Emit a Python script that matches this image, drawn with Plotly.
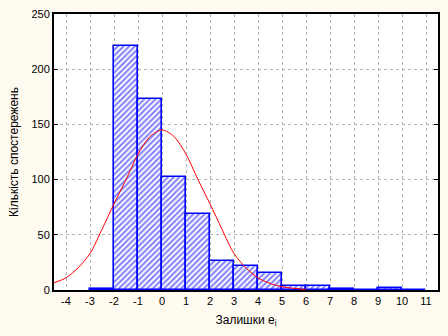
import plotly.graph_objects as go

# Histogram bins (left edges, width 1) and counts
bin_left = [-3, -2, -1, 0, 1, 2, 3, 4, 5, 6, 7, 8, 9, 10]
counts = [1, 221, 173, 102, 69, 26, 22, 15, 4, 4, 1, 0, 2, 0]

# Fitted normal curve
curve_x = [-4.5, -4, -3.5, -3, -2.5, -2, -1.5, -1, -0.5, 0, 0.5, 1, 1.5, 2, 2.5, 3, 3.5, 4, 4.5, 5, 5.5, 6]
curve_y = [6.5, 11, 20, 33, 55, 78, 100, 123, 139, 145, 139, 123, 100, 78, 55, 33, 20, 11, 6, 3, 1.5, 0.5]

x_ticks = list(range(-4, 12))

bin_center = [b + 0.5 for b in bin_left]

fig = go.Figure()
fig.add_trace(go.Bar(
    x=bin_center, y=counts, width=1,
    marker=dict(color="white",
                line=dict(color="#0000ff", width=1.6),
                pattern=dict(shape="/", fgcolor="#0000ff", bgcolor="white", size=4, solidity=0.5)),
    showlegend=False,
))
fig.add_trace(go.Scatter(
    x=curve_x, y=curve_y, mode="lines",
    line=dict(color="#ff0000", width=1, shape="spline", smoothing=0.8),
    showlegend=False,
))

font = "Liberation Sans, Arial, sans-serif"
fig.update_layout(
    width=448, height=336,
    margin=dict(l=54, r=8, t=10, b=46),
    paper_bgcolor="#fffbf0",
    plot_bgcolor="white",
    font=dict(family=font, size=11, color="black"),
    bargap=0,
)
fig.update_xaxes(
    range=[-4.5, 11.5], tickvals=x_ticks, ticktext=[str(v) for v in x_ticks],
    showgrid=True, gridcolor="#b4b4b4", griddash="dot", gridwidth=1,
    showline=True, linecolor="black", linewidth=2, mirror=True,
    ticks="", zeroline=False,
    title=dict(text="Залишки e<sub>i</sub>", font=dict(size=12), standoff=9),
)
fig.update_yaxes(
    range=[0, 250], tickvals=[0, 50, 100, 150, 200, 250],
    showgrid=True, gridcolor="#b4b4b4", griddash="dot", gridwidth=1,
    showline=True, linecolor="black", linewidth=2, mirror="ticks",
    ticks="inside", ticklen=4, tickcolor="black", zeroline=False,
    title=dict(text="Кількість спостережень", font=dict(size=12), standoff=10),
)

fig.write_html("out.html")
